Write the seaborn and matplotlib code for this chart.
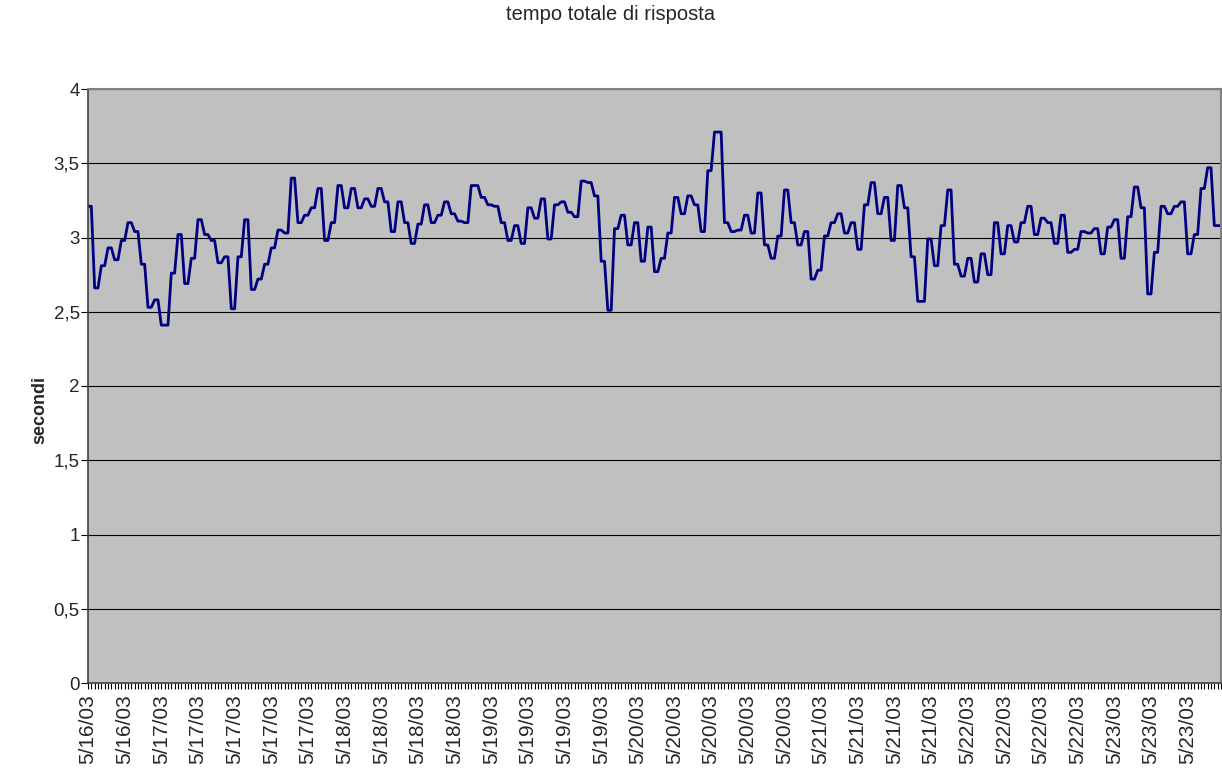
import numpy as np
import seaborn as sns
import matplotlib
matplotlib.use("Agg")
import matplotlib.pyplot as plt
from matplotlib.ticker import FixedLocator, FuncFormatter

# tempo totale di risposta, one reading per half hour
tempi = [
    3.21, 3.21, 2.66, 2.66, 2.81, 2.81, 2.93, 2.93, 2.85, 2.85,
    2.98, 2.98, 3.10, 3.10, 3.04, 3.04, 2.82, 2.82, 2.53, 2.53,
    2.58, 2.58, 2.41, 2.41, 2.41, 2.76, 2.76, 3.02, 3.02, 2.69, 2.69,
    2.86, 2.86, 3.12, 3.12, 3.02, 3.02, 2.98, 2.98, 2.83, 2.83,
    2.87, 2.87, 2.52, 2.52, 2.87, 2.87, 3.12, 3.12, 2.65, 2.65,
    2.72, 2.72, 2.82, 2.82, 2.93, 2.93, 3.05, 3.05, 3.03, 3.03,
    3.40, 3.40, 3.10, 3.10, 3.15, 3.15, 3.20, 3.20, 3.33, 3.33,
    2.98, 2.98, 3.10, 3.10, 3.35, 3.35, 3.20, 3.20, 3.33, 3.33,
    3.20, 3.20, 3.26, 3.26, 3.21, 3.21, 3.33, 3.33, 3.24, 3.24,
    3.04, 3.04, 3.24, 3.24, 3.10, 3.10, 2.96, 2.96, 3.09, 3.09,
    3.22, 3.22, 3.10, 3.10, 3.15, 3.15, 3.24, 3.24, 3.16, 3.16,
    3.11, 3.11, 3.10, 3.10, 3.35, 3.35, 3.35,
    3.27, 3.27, 3.22, 3.22, 3.21, 3.21, 3.10, 3.10, 2.98, 2.98,
    3.08, 3.08, 2.96, 2.96, 3.20, 3.20, 3.13, 3.13, 3.26, 3.26,
    2.99, 2.99, 3.22, 3.22, 3.24, 3.24, 3.17, 3.17, 3.14, 3.14,
    3.38, 3.38, 3.37, 3.37, 3.28, 3.28, 2.84, 2.84, 2.51, 2.51,
    3.06, 3.06, 3.15, 3.15, 2.95, 2.95, 3.10, 3.10, 2.84, 2.84,
    3.07, 3.07, 2.77, 2.77, 2.86, 2.86, 3.03, 3.03, 3.27, 3.27,
    3.16, 3.16, 3.28, 3.28, 3.22, 3.22, 3.04, 3.04, 3.45, 3.45,
    3.71, 3.71, 3.71, 3.10, 3.10, 3.04, 3.04, 3.05, 3.05, 3.15, 3.15,
    3.03, 3.03, 3.30, 3.30, 2.95, 2.95, 2.86, 2.86, 3.01, 3.01,
    3.32, 3.32, 3.10, 3.10, 2.95, 2.95, 3.04, 3.04, 2.72, 2.72,
    2.78, 2.78, 3.01, 3.01, 3.10, 3.10, 3.16, 3.16, 3.03, 3.03,
    3.10, 3.10, 2.92, 2.92, 3.22, 3.22, 3.37, 3.37, 3.16, 3.16,
    3.27, 3.27, 2.98, 2.98, 3.35, 3.35, 3.20, 3.20, 2.87, 2.87,
    2.57, 2.57, 2.57, 2.99, 2.99, 2.81, 2.81, 3.08, 3.08, 3.32, 3.32,
    2.82, 2.82, 2.74, 2.74, 2.86, 2.86, 2.70, 2.70, 2.89, 2.89,
    2.75, 2.75, 3.10, 3.10, 2.89, 2.89, 3.08, 3.08, 2.97, 2.97,
    3.10, 3.10, 3.21, 3.21, 3.02, 3.02, 3.13, 3.13, 3.10, 3.10,
    2.96, 2.96, 3.15, 3.15, 2.90, 2.90, 2.92, 2.92, 3.04, 3.04,
    3.03, 3.03, 3.06, 3.06, 2.89, 2.89, 3.07, 3.07, 3.12, 3.12,
    2.86, 2.86, 3.14, 3.14, 3.34, 3.34, 3.20, 3.20, 2.62, 2.62,
    2.90, 2.90, 3.21, 3.21, 3.16, 3.16, 3.21, 3.21, 3.24, 3.24,
    2.89, 2.89, 3.02, 3.02, 3.33, 3.33, 3.47, 3.47, 3.08, 3.08, 3.08,
]

# one date label every 11 readings
date_labels = [
    "5/16/03", "5/16/03",
    "5/17/03", "5/17/03", "5/17/03", "5/17/03", "5/17/03",
    "5/18/03", "5/18/03", "5/18/03", "5/18/03",
    "5/19/03", "5/19/03", "5/19/03", "5/19/03",
    "5/20/03", "5/20/03", "5/20/03", "5/20/03", "5/20/03",
    "5/21/03", "5/21/03", "5/21/03", "5/21/03",
    "5/22/03", "5/22/03", "5/22/03", "5/22/03",
    "5/23/03", "5/23/03", "5/23/03",
]
label_step = 11

y_ticks = [0, 0.5, 1, 1.5, 2, 2.5, 3, 3.5, 4]

sns.set_style("white")
plt.rcParams["font.family"] = ["Liberation Sans", "DejaVu Sans"]

x = np.arange(len(tempi))

fig = plt.figure(figsize=(12.22, 7.76), dpi=100)
ax = fig.add_axes([88 / 1222, 93 / 776, 1133 / 1222, 594 / 776])
ax.set_facecolor("#C0C0C0")

sns.lineplot(x=x, y=tempi, ax=ax, color="#000080", linewidth=2.0)

ax.set_xlim(0, len(tempi) - 1)
ax.set_ylim(0, 4)

# horizontal grid only, like the Excel sheet
ax.yaxis.set_major_locator(FixedLocator(y_ticks))
ax.yaxis.set_major_formatter(FuncFormatter(lambda v, p: f"{v:g}".replace(".", ",")))
ax.grid(axis="y", color="black", linewidth=0.8)
ax.grid(axis="x", visible=False)

major = np.arange(len(date_labels)) * label_step
ax.xaxis.set_major_locator(FixedLocator(major))
ax.set_xticklabels(date_labels, rotation=90)
ax.xaxis.set_minor_locator(FixedLocator(x))

ax.tick_params(axis="x", which="both", direction="out", length=4, width=0.8,
               color="black", labelsize=15, pad=4, bottom=True)
ax.tick_params(axis="y", direction="out", length=5, width=0.8, color="black",
               labelsize=13.5, pad=1, left=True)

for side in ["top", "right"]:
    ax.spines[side].set_color("#808080")
    ax.spines[side].set_linewidth(1.5)
for side in ["left", "bottom"]:
    ax.spines[side].set_color("#404040")
    ax.spines[side].set_linewidth(1.2)

ax.set_ylabel("secondi", fontsize=13, fontweight="bold")
ax.yaxis.set_label_coords(-40 / 1133, (683 - 410) / 594)
ax.set_xlabel("")
fig.text(0.5, 1 - 14 / 776, "tempo totale di risposta", ha="center", va="center",
         fontsize=14.5)

fig.savefig("out.png", dpi=100)
